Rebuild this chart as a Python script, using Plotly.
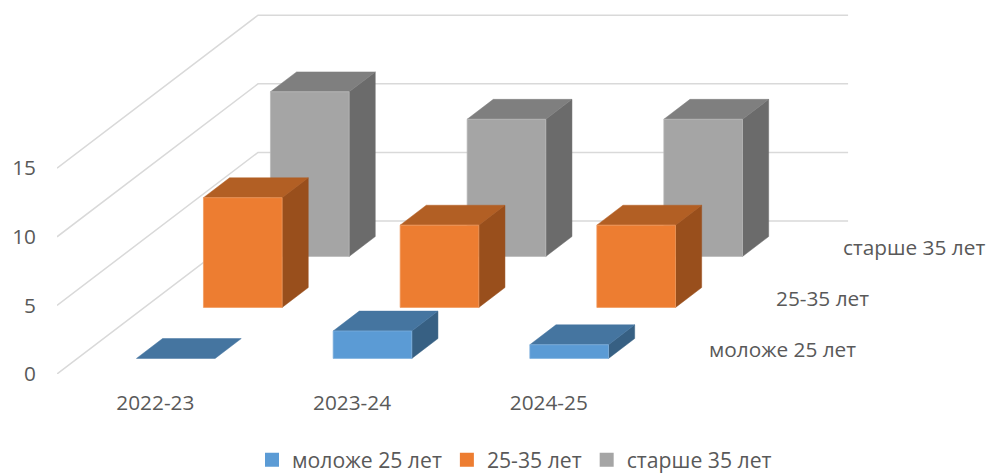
import plotly.graph_objects as go

# --- data ---
categories = ["2022-23", "2023-24", "2024-25"]
series_names = ["моложе 25 лет", "25-35 лет", "старше 35 лет"]
young = [0, 2, 1]
middle = [8, 6, 6]
senior = [12, 10, 10]
value_ticks = [0, 5, 10, 15]

# --- styles ---
FONT = "Open Sans"
FS = 20.8
TEXT = "#595959"
GRID = "#D9D9D9"
front_colors = ["#5B9BD5", "#ED7D31", "#A5A5A5"]
top_colors = ["#4575A0", "#B25F24", "#7F7F7F"]
side_colors = ["#376083", "#994F1C", "#6B6B6B"]
edge_colors = ["#7FB0DE", "#F09A5E", "#B8B8B8"]

# --- oblique projection: depth is in series slots, x in categories, y in values
PX_X = 196.7          # pixels per category
PX_Y = 13.72          # pixels per value unit
LEFT, BOTTOM = 57, 374
DX = 67 / PX_X        # x shift per series slot
DY = 51 / PX_Y        # y shift per series slot
BAR_W = 0.40          # fraction of category
BAR_D = 0.39          # fraction of series slot


def proj(x, v, d):
    return x + d * DX, v + d * DY


def poly(points):
    xs, ys = zip(*[proj(*p) for p in points])
    return list(xs) + [xs[0], None], list(ys) + [ys[0], None]


fig = go.Figure()

# gridlines: left wall and back wall
x0, x1 = -0.5, len(categories) - 0.5
depth = len(series_names)
gx, gy = [], []
for t in value_ticks:
    for p in [(x0, t, 0), (x0, t, depth), (x1, t, depth)]:
        a, b = proj(*p)
        gx.append(a)
        gy.append(b)
    gx.append(None)
    gy.append(None)
fig.add_trace(go.Scatter(x=gx, y=gy, mode="lines", line=dict(color=GRID, width=1.5),
                         hoverinfo="skip", showlegend=False))

# bars, painted back to front
all_values = [young, middle, senior]
for s in reversed(range(len(all_values))):
    fx, fy, tx, ty, sx, sy = [], [], [], [], [], []
    d0 = s + (1 - BAR_D) / 2
    d1 = d0 + BAR_D
    for i, v in enumerate(all_values[s]):
        l, r = i - BAR_W / 2, i + BAR_W / 2
        a, b = poly([(l, v, d0), (r, v, d0), (r, v, d1), (l, v, d1)])
        tx += a
        ty += b
        if v > 0:
            a, b = poly([(l, 0, d0), (r, 0, d0), (r, v, d0), (l, v, d0)])
            fx += a
            fy += b
            a, b = poly([(r, 0, d0), (r, 0, d1), (r, v, d1), (r, v, d0)])
            sx += a
            sy += b
    for xs, ys, c, lw in [(sx, sy, side_colors[s], 0), (tx, ty, top_colors[s], 0), (fx, fy, front_colors[s], 0.75)]:
        fig.add_trace(go.Scatter(
            x=xs, y=ys, mode="lines", fill="toself", fillcolor=c,
            line=dict(color=edge_colors[s] if lw else c, width=lw if lw else 0.5),
            hoverinfo="skip", showlegend=False))

# legend entries
for name, c in zip(series_names, front_colors):
    fig.add_trace(go.Scatter(x=[None], y=[None], mode="markers", name=name,
                             marker=dict(symbol="square", size=14, color=c)))

# series-axis labels
for s, name in enumerate(series_names):
    ax, ay = proj(x1, 0, s + 0.5)
    fig.add_annotation(x=ax, y=ay, text=name, showarrow=False, xanchor="left", yanchor="middle",
                       xshift=26, yshift=0, font=dict(family=FONT, size=FS, color=TEXT))

W, H = 989, 475
fig.update_layout(
    width=W, height=H, autosize=False,
    margin=dict(l=LEFT, r=0, t=0, b=H - BOTTOM, pad=0),
    paper_bgcolor="white", plot_bgcolor="white",
    font=dict(family=FONT, size=FS, color=TEXT),
    legend=dict(orientation="h", x=252 / W, xref="container", xanchor="left", y=15 / H, yref="container",
                yanchor="middle", font=dict(family=FONT, size=21.2, color=TEXT), itemclick=False,
                itemdoubleclick=False, tracegroupgap=0),
    xaxis=dict(range=[x0, x0 + (W - LEFT) / PX_X], tickmode="array", tickvals=list(range(len(categories))),
               ticktext=categories, showgrid=False, zeroline=False, showline=False, ticks="",
               ticklabelstandoff=14, tickfont=dict(family=FONT, size=FS, color=TEXT)),
    yaxis=dict(range=[0, BOTTOM / PX_Y], tickmode="array", tickvals=value_ticks, showgrid=False,
               zeroline=False, showline=False, ticks="", ticklabelstandoff=20,
               tickfont=dict(family=FONT, size=FS, color=TEXT)),
)

fig.write_html("out.html", config={"displayModeBar": False},
               post_script="document.body.style.margin='0';document.documentElement.style.overflow='hidden';")
